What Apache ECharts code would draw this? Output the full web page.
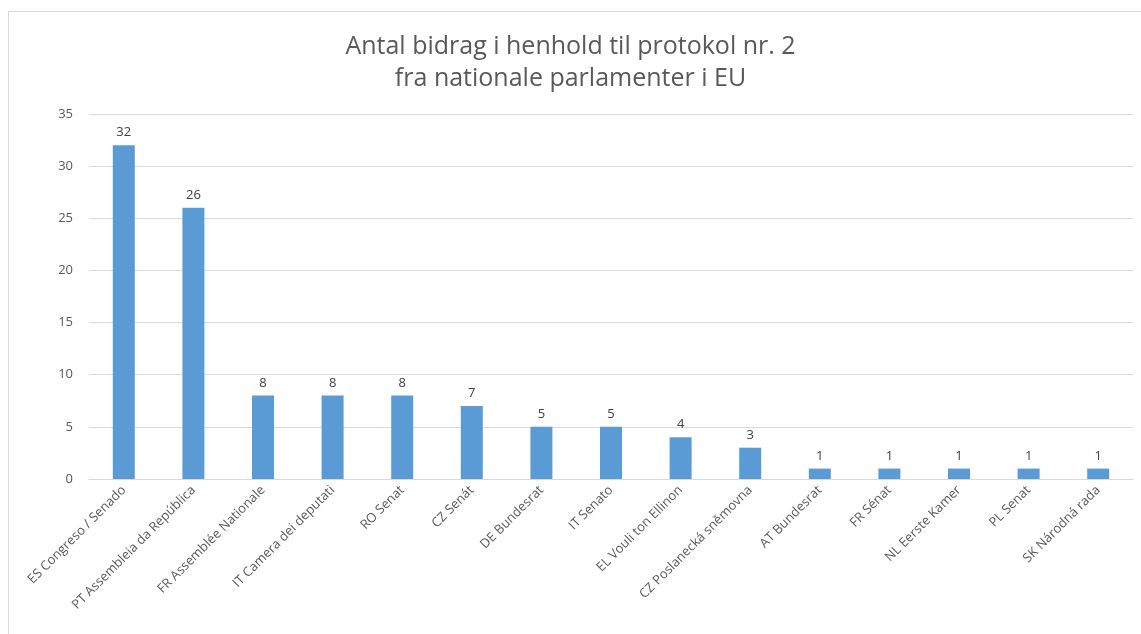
<!DOCTYPE html>
<html>
<head>
<meta charset="utf-8">
<script src="https://cdn.jsdelivr.net/npm/echarts@6/dist/echarts.min.js"></script>
<style>
  html, body { margin: 0; padding: 0; background: #fff; }
  #frame {
    position: absolute; left: 8px; top: 11px; width: 1140px; height: 630px;
    border: 1px solid #d9d9d9; box-sizing: border-box;
  }
  #chart { position: absolute; left: 0; top: 0; width: 1141px; height: 634px; }
</style>
</head>
<body>
<div id="frame"></div>
<div id="chart"></div>
<script>
// categories (parliament chambers)
const chambers = [
  "ES Congreso / Senado",
  "PT Assembleia da República",
  "FR Assemblée Nationale",
  "IT Camera dei deputati",
  "RO Senat",
  "CZ Senát",
  "DE Bundesrat",
  "IT Senato",
  "EL Vouli ton Ellinon",
  "CZ Poslanecká sněmovna",
  "AT Bundesrat",
  "FR Sénat",
  "NL Eerste Kamer",
  "PL Senat",
  "SK Národná rada"
];
// number of contributions
const contributions = [32, 26, 8, 8, 8, 7, 5, 5, 4, 3, 1, 1, 1, 1, 1];
const yTicks = [0, 5, 10, 15, 20, 25, 30, 35];

const chart = echarts.init(document.getElementById("chart"));
const fontFam = "'Open Sans', 'Liberation Sans', sans-serif";

chart.setOption({
  animation: false,
  title: {
    text: "Antal bidrag i henhold til protokol nr. 2\nfra nationale parlamenter i EU",
    left: "center",
    top: 26,
    textStyle: {
      color: "#595959",
      fontSize: 25,
      fontWeight: "normal",
      fontFamily: fontFam,
      lineHeight: 32
    }
  },
  grid: {
    left: 89,
    right: 8,
    top: 114,
    bottom: 155
  },
  xAxis: {
    type: "category",
    data: chambers,
    axisLine: { lineStyle: { color: "#d9d9d9" } },
    axisTick: { show: false },
    axisLabel: {
      rotate: 45,
      interval: 0,
      color: "#595959",
      fontSize: 13,
      fontFamily: fontFam,
      margin: 9
    }
  },
  yAxis: {
    type: "value",
    min: yTicks[0],
    max: yTicks[yTicks.length - 1],
    interval: 5,
    axisLine: { show: false },
    axisTick: { show: false },
    splitLine: { lineStyle: { color: "#d9d9d9" } },
    axisLabel: {
      color: "#595959",
      fontSize: 13,
      fontFamily: fontFam,
      margin: 16
    }
  },
  series: [
    {
      type: "bar",
      data: contributions,
      barWidth: 22,
      itemStyle: { color: "#5b9bd5" },
      label: {
        show: true,
        position: "top",
        color: "#404040",
        fontSize: 13,
        fontFamily: fontFam,
        distance: 6
      }
    }
  ]
});
</script>
</body>
</html>
